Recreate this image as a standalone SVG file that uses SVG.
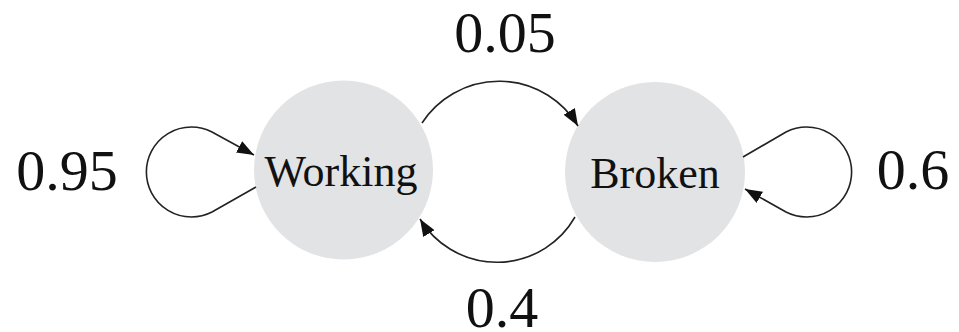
<svg xmlns="http://www.w3.org/2000/svg" width="959" height="332" viewBox="0 0 959 332">
  <style>
    .state { fill: #e2e3e5; stroke: none; }
    .name { font-family: "Liberation Serif", "Times New Roman", serif; font-size: 44px; fill: #111; text-anchor: middle; }
    .prob { font-family: "Liberation Serif", "Times New Roman", serif; font-size: 58px; fill: #111; text-anchor: middle; }
    .edge { fill: none; stroke: #222; stroke-width: 1.6; marker-end: url(#head); }
  </style>
  <defs>
    <marker id="head" markerUnits="userSpaceOnUse" markerWidth="18" markerHeight="13" refX="17" refY="6.5" orient="auto">
      <path d="M0,0 L17,6.5 L0,13 z" fill="#111"/>
    </marker>
  </defs>
  <rect width="959" height="332" fill="#fff"/>

  <g id="working">
    <circle class="state" cx="343.5" cy="170" r="89.5"/>
    <text class="name" x="341" y="186">Working</text>
  </g>

  <g id="broken">
    <circle class="state" cx="655" cy="172" r="90"/>
    <text class="name" x="655" y="188">Broken</text>
  </g>

  <g id="connectors">
    <!-- Working self-loop -->
    <path class="edge" d="M 256 187 L 212 212 A 45 45 0 1 1 212 132 L 254 155"/>
    <!-- Broken self-loop -->
    <path class="edge" d="M 743 157 L 786 132 A 45 45 0 1 1 786 212 L 745 189"/>
    <!-- Working to Broken -->
    <path class="edge" d="M 422 123 A 92 92 0 0 1 578 126"/>
    <!-- Broken to Working -->
    <path class="edge" d="M 575 217 A 90 90 0 0 1 420 219"/>
  </g>

  <g id="labels">
    <text class="prob" x="67" y="190">0.95</text>
    <text class="prob" x="913" y="189">0.6</text>
    <text class="prob" x="505" y="52">0.05</text>
    <text class="prob" x="502" y="327">0.4</text>
  </g>
</svg>
